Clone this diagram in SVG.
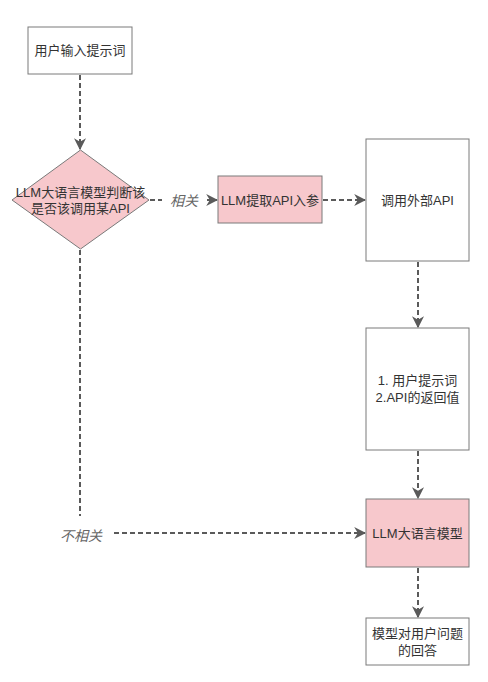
<svg xmlns="http://www.w3.org/2000/svg" width="488" height="682" viewBox="0 0 488 682">
<defs>
<style>
.box{fill:#ffffff;stroke:#7a7a7a;stroke-width:1}
.pink{fill:#f7c8cc;stroke:#7a7a7a;stroke-width:1}
.t{font-family:"Liberation Sans","Noto Sans CJK SC",sans-serif;font-size:13px;fill:#333333;text-anchor:middle}
.lbl{font-family:"Liberation Sans","Noto Sans CJK SC",sans-serif;font-size:14px;fill:#666666;text-anchor:middle;font-style:italic}
.c{fill:none;stroke:#5a5a5a;stroke-width:2;stroke-dasharray:5 3}
</style>
<marker id="ah" viewBox="0 0 10 10" refX="9" refY="5" markerWidth="6" markerHeight="6" orient="auto" markerUnits="strokeWidth">
<path d="M0,0 L10,5 L0,10 L3,5 Z" fill="#5a5a5a"/>
</marker>
</defs>
<rect width="488" height="682" fill="#ffffff"/>
<g id="connectors">
<path class="c" d="M80,75 L80,149" marker-end="url(#ah)"/>
<path class="c" d="M150,200 L162,200"/>
<path class="c" d="M207,200 L217,200" marker-end="url(#ah)"/>
<path class="c" d="M323,200 L365,200" marker-end="url(#ah)"/>
<path class="c" d="M418,262 L418,327" marker-end="url(#ah)"/>
<path class="c" d="M418,451 L418,498" marker-end="url(#ah)"/>
<path class="c" d="M80,250 L80,516"/>
<path class="c" d="M114,533 L365,533" marker-end="url(#ah)"/>
<path class="c" d="M418,568 L418,617" marker-end="url(#ah)"/>
<text class="lbl" x="184" y="206">相关</text>
<text class="lbl" x="81" y="541">不相关</text>
</g>
<g id="n1">
<rect class="box" x="28" y="27" width="104" height="47"/>
<text class="t" x="80" y="55">用户输入提示词</text>
</g>
<g id="n2">
<polygon class="pink" points="80.5,150 149,200 80.5,249 12,200"/>
<text class="t" x="80.5" y="197">LLM大语言模型判断该</text>
<text class="t" x="80.5" y="213">是否该调用某API</text>
</g>
<g id="n3">
<rect class="pink" x="218" y="176" width="104" height="47"/>
<text class="t" x="270" y="205">LLM提取API入参</text>
</g>
<g id="n4">
<rect class="box" x="366" y="139" width="103" height="122"/>
<text class="t" x="417.5" y="205">调用外部API</text>
</g>
<g id="n5">
<rect class="box" x="366" y="328" width="103" height="122"/>
<text class="t" x="417.5" y="385">1. 用户提示词</text>
<text class="t" x="417.5" y="402">2.API的返回值</text>
</g>
<g id="n6">
<rect class="pink" x="366" y="499" width="103" height="68"/>
<text class="t" x="417.5" y="538">LLM大语言模型</text>
</g>
<g id="n7">
<rect class="box" x="366" y="618" width="103" height="47"/>
<text class="t" x="417.5" y="638">模型对用户问题</text>
<text class="t" x="417.5" y="655">的回答</text>
</g>
</svg>
